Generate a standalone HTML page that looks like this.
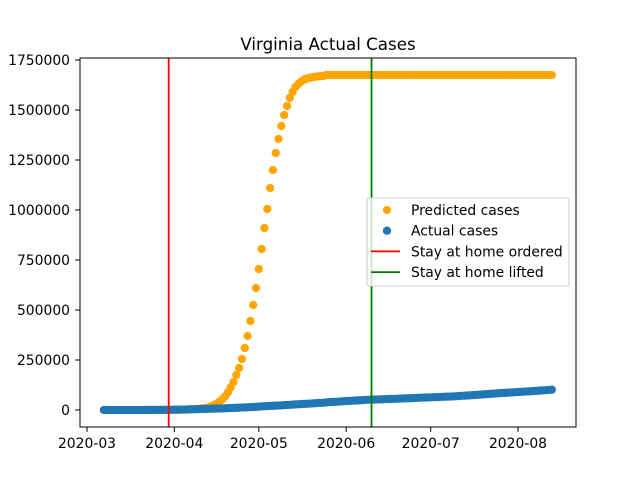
<!DOCTYPE html>
<html><head><meta charset="utf-8"><style>
body{margin:0;background:#fff}
svg text{font-family:"DejaVu Sans","Liberation Sans",sans-serif;fill:#000}
</style></head><body>
<svg id="chart" width="640" height="480" xmlns="http://www.w3.org/2000/svg">
<rect width="640" height="480" fill="#fff"/>
<text x="328" y="50" font-size="16.7" text-anchor="middle">Virginia Actual Cases</text>
<g id="plot"></g>
<g id="axes"></g>
</svg>
<script>
const startDate = "2020-03-07";
const predicted = [0,0,0,0,0,0,0,0,0,0,0,0,0,0,0,0,0,0,0,0,100,150,200,300,400,550,750,1000,1350,1800,2400,3200,4200,5500,7000,8800,10500,
13000,18000,24000,31000,41000,53000,68000,88000,112000,140000,175000,210000,255000,310000,370000,445000,525000,610000,705000,805000,910000,1005000,1110000,1200000,1285000,1355000,1420000,1475000,
1520000,1560000,1590000,1615000,1630000,1642000,1651000,1657000,1661000,1664000,1666000,1668000,1669000,1670000,
1675000,1675000,1675000,1675000,1675000,1675000,1675000,1675000,1675000,1675000,1675000,1675000,1675000,1675000,1675000,1675000,1675000,1675000,1675000,1675000,1675000,1675000,1675000,1675000,1675000,1675000,1675000,1675000,1675000,1675000,1675000,1675000,1675000,1675000,1675000,1675000,1675000,1675000,1675000,1675000,1675000,1675000,1675000,1675000,1675000,1675000,1675000,1675000,1675000,1675000,1675000,1675000,1675000,1675000,1675000,1675000,1675000,1675000,1675000,1675000,1675000,1675000,1675000,1675000,1675000,1675000,1675000,1675000,1675000,1675000,1675000,1675000,1675000,1675000,1675000,1675000,1675000,1675000,1675000,1675000,1675000];
const actual = [2,2,3,5,8,9,17,30,41,45,67,77,99,114,152,219,254,290,391,460,604,739,890,1020,1250,
1484,1706,2012,2407,2637,2878,3333,3645,4042,4509,5077,5274,5747,6171,6500,6889,7491,8053,8537,8990,9630,10266,10998,11594,12366,12970,13535,14339,14961,15846,
16901,17731,18671,19492,20256,20878,21570,22342,23196,24081,25070,25800,26746,27813,28672,29683,30388,31140,31982,32908,33765,34950,35749,36244,37727,39342,40249,40809,41401,42533,43611,
44607,45398,46239,46905,47856,48532,49397,50681,51251,51738,52177,52647,53211,53869,54506,54886,55331,55775,56238,56793,57443,57994,58465,58994,59514,60570,61247,61736,62189,62787,
63203,63735,64393,65109,65748,66102,66740,67375,67988,68931,69782,70670,71642,72443,73527,74431,75433,76373,77430,78375,79371,80393,81237,82364,83609,84567,85479,86072,86994,87993,88904,
89888,90801,91782,92571,93106,94251,95049,95867,97882,98041,99189,100086,101745];
const yTicks = [0,250000,500000,750000,1000000,1250000,1500000,1750000];
const xTicks = ["2020-03","2020-04","2020-05","2020-06","2020-07","2020-08"];
const stayOrdered = "2020-03-30";
const stayLifted = "2020-06-10";

const NS="http://www.w3.org/2000/svg";
const L=80,R=576,T=58,B=427;
const day0=Date.UTC(2020,2,1);
function dayOf(s){const p=s.split("-");return (Date.UTC(+p[0],+p[1]-1,p[2]?+p[2]:1)-day0)/864e5;}
function xScale(d){return 87+d*(431/153);}
function yScale(v){return 410-v*0.0002;}
function mk(tag,attrs,parent){const e=document.createElementNS(NS,tag);for(const k in attrs)e.setAttribute(k,attrs[k]);parent.appendChild(e);return e;}
const plot=document.getElementById("plot"), axes=document.getElementById("axes");
const s0=dayOf(startDate);
const MR=4.15;
predicted.forEach((v,i)=>{const c=mk("circle",{cx:xScale(s0+i),cy:yScale(v),r:MR,fill:"#ffa500"},plot);

});
actual.forEach((v,i)=>{const c=mk("circle",{cx:xScale(s0+i),cy:yScale(v),r:MR,fill:"#1f77b4"},plot);

});
const lr=mk("line",{x1:xScale(dayOf(stayOrdered)),x2:xScale(dayOf(stayOrdered)),y1:T,y2:B,stroke:"#ff0000","stroke-width":1.8},plot);


const lg=mk("line",{x1:xScale(dayOf(stayLifted)),x2:xScale(dayOf(stayLifted)),y1:T,y2:B,stroke:"#008000","stroke-width":1.8},plot);


const fr=mk("rect",{x:L,y:T,width:R-L,height:B-T,fill:"none",stroke:"#000","stroke-width":1},axes);


yTicks.forEach(v=>{const y=yScale(v);
mk("line",{x1:L-4.9,x2:L,y1:y,y2:y,stroke:"#000"},axes);
const t=mk("text",{x:L-10,y:y+5,"font-size":13.9,"text-anchor":"end"},axes);t.textContent=v;

});
xTicks.forEach(s=>{const x=xScale(dayOf(s));
mk("line",{x1:x,x2:x,y1:B,y2:B+4.9,stroke:"#000"},axes);
const t=mk("text",{x:x,y:B+21,"font-size":13.9,"text-anchor":"middle"},axes);t.textContent=s;

});
const lgd=mk("g",{},axes);


mk("rect",{x:367,y:198,width:202,height:88,rx:2,fill:"#fff","fill-opacity":0.8,stroke:"#ccc"},lgd);
const items=[["Predicted cases","dot","#ffa500"],["Actual cases","dot","#1f77b4"],["Stay at home ordered","line","#ff0000"],["Stay at home lifted","line","#008000"]];
items.forEach((it,i)=>{const y=210+i*20.7;
if(it[1]=="dot")mk("circle",{cx:387,cy:y,r:MR,fill:it[2]},lgd);
else mk("line",{x1:371,x2:400,y1:y,y2:y,stroke:it[2],"stroke-width":1.8},lgd);
const t=mk("text",{x:411,y:y+5,"font-size":13.9},lgd);t.textContent=it[0];

});
</script>
</body></html>
